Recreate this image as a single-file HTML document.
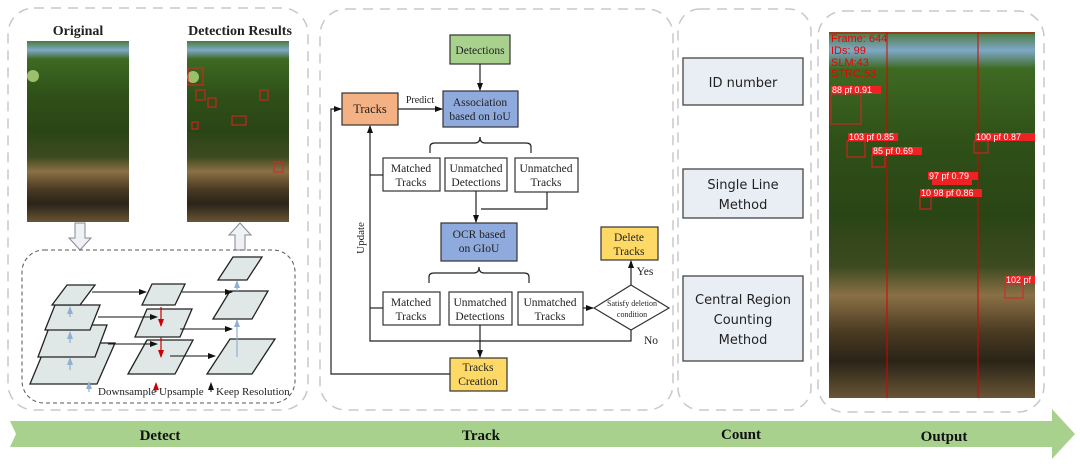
<!DOCTYPE html>
<html><head><meta charset="utf-8"><style>
body{margin:0;background:#fff;width:1080px;height:468px;overflow:hidden}
text{font-family:"Liberation Serif",serif}
.sans text{font-family:"DejaVu Sans",sans-serif}
.ls text{font-family:"Liberation Sans",sans-serif}
</style></head><body>
<svg width="1080" height="468" viewBox="0 0 1080 468" xmlns="http://www.w3.org/2000/svg">
<defs>
<marker id="a" markerWidth="8" markerHeight="8" refX="7" refY="4" orient="auto" markerUnits="userSpaceOnUse"><path d="M0,1 L8,4 L0,7z" fill="#111"/></marker>
<marker id="r" markerWidth="8" markerHeight="8" refX="7" refY="4" orient="auto" markerUnits="userSpaceOnUse"><path d="M0,1 L8,4 L0,7z" fill="#c00"/></marker>
<marker id="b" markerWidth="8" markerHeight="8" refX="7" refY="4" orient="auto" markerUnits="userSpaceOnUse"><path d="M0,1 L8,4 L0,7z" fill="#8fb0d0"/></marker>
<linearGradient id="ph" x1="0" y1="0" x2="0" y2="1">
<stop offset="0" stop-color="#4a7a3a"/><stop offset="0.05" stop-color="#7fa8c8"/><stop offset="0.1" stop-color="#3e6a22"/><stop offset="0.3" stop-color="#2f5018"/><stop offset="0.5" stop-color="#2a4515"/><stop offset="0.64" stop-color="#3d4a20"/><stop offset="0.72" stop-color="#8a7045"/><stop offset="0.82" stop-color="#4a3a22"/><stop offset="0.9" stop-color="#2a2418"/><stop offset="1" stop-color="#6a5535"/></linearGradient>
</defs>
<g fill="none" stroke="#c8c8c8" stroke-width="1.5" stroke-dasharray="10,7">
<rect x="8" y="8" width="300" height="402" rx="26"/>
<rect x="320" y="9" width="353" height="401" rx="26"/>
<rect x="678" y="9" width="133" height="401" rx="22"/>
<rect x="818" y="11" width="226" height="401" rx="26"/>
</g>
<g fill="#222">
<text x="78" y="35" font-size="14" font-weight="bold" text-anchor="middle">Original</text>
<text x="240" y="35" font-size="14" font-weight="bold" text-anchor="middle">Detection Results</text>
</g>
<rect x="27" y="41" width="102" height="181" fill="url(#ph)"/>
<rect x="187" y="41" width="102" height="181" fill="url(#ph)"/>
<circle cx="33" cy="76" r="6" fill="#9cbf6a"/><circle cx="193" cy="77" r="6" fill="#9cbf6a"/>
<circle cx="844" cy="108" r="11" fill="#9cbf6a"/>
<g fill="none" stroke="#e02020" stroke-width="1"><rect x="188" y="68" width="15" height="17"/><rect x="196" y="90" width="9" height="10"/><rect x="208" y="98" width="8" height="9"/><rect x="232" y="116" width="14" height="9"/><rect x="192" y="122" width="6" height="7"/><rect x="260" y="90" width="8" height="10"/><rect x="274" y="162" width="9" height="10"/></g>
<path d="M75,223 h10 v15 h6 l-11,12 l-11,-12 h6z" fill="#eef2f7" stroke="#888"/>
<path d="M235,250 v-15 h-6 l11,-12 l11,12 h-6 v15z" fill="#eef2f7" stroke="#888"/>
<rect x="22" y="250" width="273" height="153" rx="22" fill="none" stroke="#555" stroke-dasharray="4,3"/>
<g fill="#dfe8e6" stroke="#222" stroke-width="1.3">
<path d="M30,384 L47,343 L115,343 L97,384z"/>
<path d="M38,357 L50,325 L107,325 L95,357z"/>
<path d="M45,330 L55,305 L100,305 L90,330z"/>
<path d="M52,305 L67,285 L95,285 L80,305z"/>
<path d="M142,305 L152,284 L185,284 L175,305z"/>
<path d="M135,337 L147,309 L192,309 L180,337z"/>
<path d="M128,374 L147,340 L193,340 L175,374z"/>
<path d="M218,280 L233,257 L262,257 L247,280z"/>
<path d="M213,319 L230,291 L268,291 L252,319z"/>
<path d="M207,374 L230,339 L275,339 L252,374z"/>
</g>
<g stroke="#111" stroke-width="1" marker-end="url(#a)">
<line x1="92" y1="292" x2="146" y2="292"/><line x1="98" y1="317" x2="157" y2="317"/><line x1="108" y1="344" x2="157" y2="344"/>
<line x1="182" y1="292" x2="232" y2="292"/><line x1="180" y1="329" x2="232" y2="329"/><line x1="170" y1="356" x2="215" y2="356"/>
</g>
<g stroke="#c00" stroke-width="1.2" marker-end="url(#r)"><line x1="161" y1="307" x2="161" y2="326"/><line x1="161" y1="337" x2="161" y2="357"/></g>
<g stroke="#8fb0d0" stroke-width="1.2" marker-end="url(#b)"><line x1="70" y1="317" x2="70" y2="307"/><line x1="70" y1="343" x2="70" y2="332"/><line x1="70" y1="370" x2="70" y2="358"/><line x1="237" y1="357" x2="237" y2="320"/><line x1="237" y1="291" x2="237" y2="281"/><line x1="89" y1="392" x2="89" y2="382"/></g>
<line x1="156" y1="392" x2="156" y2="383" stroke="#c00" marker-end="url(#r)"/>
<line x1="211" y1="392" x2="211" y2="383" stroke="#111" marker-end="url(#a)"/>
<g fill="#222" font-size="11"><text x="98" y="395">Downsample</text><text x="159" y="395">Upsample</text><text x="216" y="395">Keep Resolution</text></g>
<!-- Track -->
<g stroke="#333" stroke-width="1.2">
<rect x="450" y="35" width="60" height="29" fill="#a9d18e"/>
<rect x="342" y="93" width="56" height="32" fill="#f4b183"/>
<rect x="443" y="91" width="75" height="36" fill="#8faadc"/>
<rect x="441" y="223" width="76" height="38" fill="#8faadc"/>
<rect x="601" y="227" width="57" height="33" fill="#ffd966"/>
<rect x="450" y="358" width="57" height="33" fill="#ffd966"/>
<g fill="#fff"><rect x="383" y="158" width="57" height="33"/><rect x="445" y="158" width="62" height="33"/><rect x="515" y="158" width="63" height="34"/>
<rect x="383" y="292" width="57" height="33"/><rect x="449" y="292" width="63" height="33"/><rect x="518" y="292" width="65" height="33"/>
<path d="M594,308 L631,285 L669,308 L631,330z"/></g>
</g>
<g fill="none" stroke="#222" stroke-width="1.2">
<path d="M430,153 v-6 q0,-4 5,-4 h40 q5,0 5,-6 q0,6 5,6 h41 q5,0 5,4 v6"/>
<path d="M429,283 v-6 q0,-4 5,-4 h40 q5,0 5,-6 q0,6 5,6 h40 q5,0 5,4 v6"/>
<line x1="480" y1="64" x2="480" y2="90" marker-end="url(#a)"/>
<line x1="398" y1="109" x2="442" y2="109" marker-end="url(#a)"/>
<polyline points="547,192 547,209 481,209"/>
<line x1="476" y1="191" x2="476" y2="222" marker-end="url(#a)"/>
<line x1="383" y1="175" x2="370" y2="175"/><line x1="383" y1="308" x2="370" y2="308"/>
<polyline points="631,330 631,341 370,341 370,126" marker-end="url(#a)"/>
<line x1="480" y1="325" x2="480" y2="357" marker-end="url(#a)"/>
<polyline points="450,374 331,374 331,109 341,109" marker-end="url(#a)"/>
<line x1="583" y1="308" x2="593" y2="308" marker-end="url(#a)"/>
<line x1="631" y1="285" x2="631" y2="261" marker-end="url(#a)"/>
</g>
<g font-size="11.5" text-anchor="middle" fill="#222">
<text x="480" y="54">Detections</text><text x="370" y="113" font-size="12.5">Tracks</text>
<text x="480" y="106">Association</text><text x="480" y="120">based on IoU</text>
<text x="479" y="238">OCR based</text><text x="479" y="252">on GIoU</text>
<text x="629" y="241">Delete</text><text x="629" y="255">Tracks</text>
<text x="478" y="371">Tracks</text><text x="478" y="385">Creation</text>
<text x="411" y="172">Matched</text><text x="411" y="186">Tracks</text>
<text x="476" y="172">Unmatched</text><text x="476" y="186">Detections</text>
<text x="546" y="172">Unmatched</text><text x="546" y="186">Tracks</text>
<text x="411" y="306">Matched</text><text x="411" y="320">Tracks</text>
<text x="480" y="306">Unmatched</text><text x="480" y="320">Detections</text>
<text x="550" y="306">Unmatched</text><text x="550" y="320">Tracks</text>
<text x="632" y="306" font-size="8">Satisfy deletion</text><text x="632" y="317" font-size="8">condition</text>
<text x="420" y="103" font-size="10">Predict</text>
<text x="645" y="275">Yes</text><text x="651" y="344">No</text>
<text transform="translate(364,238) rotate(-90)" font-size="11">Update</text>
</g>
<!-- Count -->
<g fill="#e9eef5" stroke="#444" stroke-width="1.3"><rect x="683" y="58" width="120" height="47"/><rect x="683" y="169" width="120" height="49"/><rect x="683" y="276" width="120" height="85"/></g>
<g class="sans" font-size="13" text-anchor="middle" fill="#222">
<text x="743" y="87">ID number</text><text x="743" y="189">Single Line</text><text x="743" y="209">Method</text>
<text x="743" y="304">Central Region</text><text x="743" y="324">Counting</text><text x="743" y="344">Method</text></g>
<!-- Output -->
<rect x="829" y="32" width="206" height="366" fill="url(#ph)"/>
<g stroke="#d00" stroke-width="1"><line x1="887" y1="32" x2="887" y2="398"/><line x1="978" y1="32" x2="978" y2="398"/><line x1="829" y1="33" x2="1035" y2="33"/></g>
<g fill="#e22"><rect x="831" y="86" width="50" height="8"/><rect x="848" y="133" width="50" height="8"/><rect x="872" y="147" width="50" height="8"/><rect x="975" y="133" width="60" height="8"/><rect x="928" y="172" width="50" height="8"/><rect x="932" y="178" width="40" height="7"/><rect x="920" y="189" width="62" height="8"/><rect x="1005" y="276" width="30" height="8"/></g>
<g fill="none" stroke="#d22"><rect x="831" y="94" width="30" height="30"/><rect x="847" y="141" width="18" height="16"/><rect x="872" y="155" width="13" height="12"/><rect x="974" y="141" width="14" height="12"/><rect x="920" y="197" width="11" height="12"/><rect x="1005" y="284" width="18" height="14"/></g>
<g class="ls" font-size="9" fill="#fff">
<text x="832" y="93">88 pf 0.91</text><text x="849" y="140">103 pf 0.85</text><text x="873" y="154">85 pf 0.69</text><text x="976" y="140">100 pf 0.87</text><text x="929" y="179">97 pf 0.79</text><text x="921" y="196">10 98 pf 0.86</text><text x="1006" y="283">102 pf</text></g>
<g class="ls" font-size="11" fill="#e00">
<text x="831" y="42">Frame: 644</text><text x="831" y="54">IDs: 99</text><text x="831" y="66">SLM:43</text><text x="831" y="77">STRC:53</text></g>
<!-- Bottom arrow -->
<path d="M10,421 L1052,421 L1052,409 L1075,434 L1052,459 L1052,447 L10,447 L16,434z" fill="#a9d18e"/>
<g font-size="15" font-weight="bold" text-anchor="middle" fill="#111"><text x="160" y="440">Detect</text><text x="481" y="440">Track</text><text x="741" y="439">Count</text><text x="944" y="441">Output</text></g>
</svg>
</body></html>
